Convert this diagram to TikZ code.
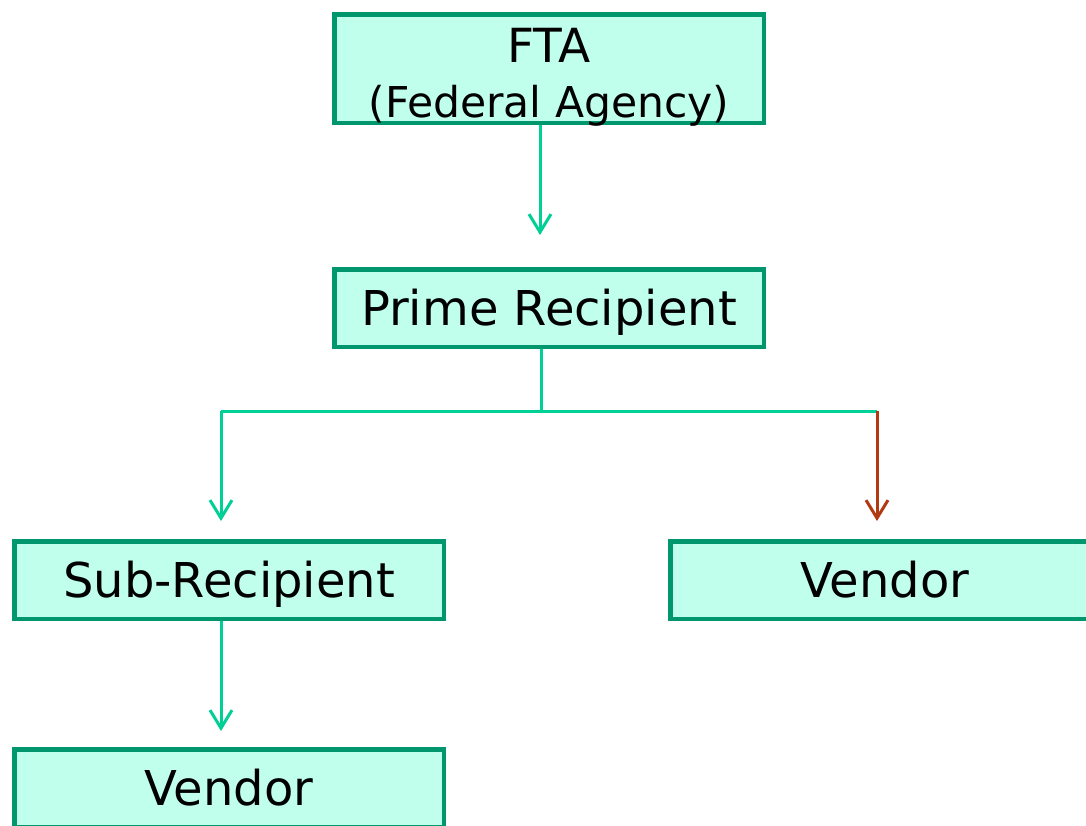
\documentclass[tikz,border=0pt]{standalone}
\usepackage{fontspec}
\setmainfont{DejaVu Sans}
\usepackage{tikz}
\usetikzlibrary{arrows.meta, positioning}
\definecolor{boxedge}{RGB}{0,150,110}
\definecolor{boxfill}{RGB}{192,255,236}
\definecolor{linkgreen}{RGB}{0,208,150}
\definecolor{linkred}{RGB}{178,58,18}
\tikzset{
  orgbox/.style={rectangle, draw=boxedge, fill=boxfill, line width=4.5pt,
    minimum width=429.5pt, minimum height=77.5pt, inner sep=0pt,
    font=\fontsize{48}{57}\selectfont, text height=35pt, text depth=0pt},
  boxtext/.style={inner sep=0pt, anchor=base},
  link/.style={line width=3pt, color=linkgreen},
  arrow/.style={link, -{Straight Barb[length=18pt, width=22pt]}},
  redarrow/.style={arrow, color=linkred}
}

\begin{document}
\begin{tikzpicture}[x=1pt, y=-1pt]
  \useasboundingbox (0,0) rectangle (1086,825);
  \clip (0,0) rectangle (1086,825);

  % Boxes
  \node[orgbox, minimum height=108.5pt] (fta) at (549,68.5) {};
  \node[boxtext, font=\fontsize{47}{56}\selectfont] (ftaname) at (549,62) {FTA};
  \node[boxtext, font=\fontsize{42.5}{51}\selectfont] (ftanote) at (549,117) {(Federal Agency)};
  \node[orgbox] (prime) at (549,308) {Prime Recipient};
  \node[orgbox] (sub) at (229,580) {Sub-Recipient};
  \node[orgbox] (vendR) at (885,580) {Vendor};
  \node[orgbox] (vendB) at (229,788) {Vendor};

  % Branch points
  \coordinate (split) at (541,411);
  \coordinate (turnL) at (221,411);
  \coordinate (turnR) at (877,411);

  % Connectors
  \draw[arrow, shorten >=32pt] ([xshift=-9pt]fta.south) -- ([xshift=-9pt]prime.north);
  \draw[link] ([xshift=-8pt]prime.south) -- (split);
  \draw[link] (turnL) -- (turnR);
  \draw[arrow, shorten >=18pt] (turnL) -- (turnL |- sub.north);
  \draw[redarrow, shorten >=18pt] (turnR) -- (turnR |- vendR.north);
  \draw[arrow, shorten >=16pt] ([xshift=-8pt]sub.south) -- ([xshift=-8pt]vendB.north);
\end{tikzpicture}
\end{document}
